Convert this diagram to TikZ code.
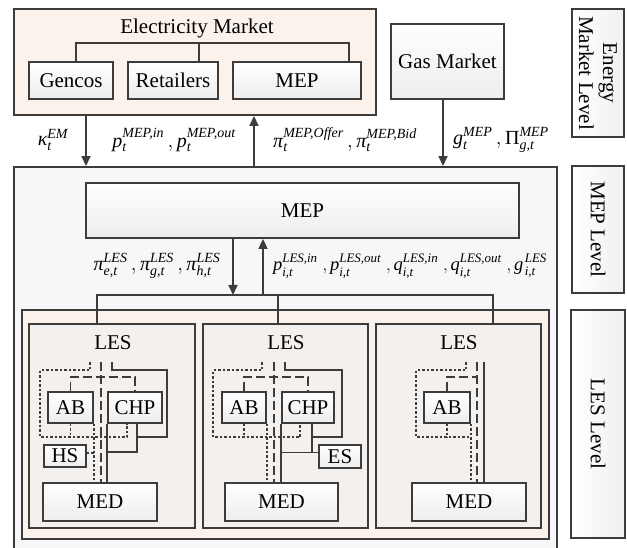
\documentclass[tikz,border=0pt]{standalone}
\usepackage{fontspec}
\setmainfont{Liberation Serif}
\usepackage{amsmath, amssymb}
\usepackage{tikz}
\usetikzlibrary{arrows.meta, calc}
\definecolor{line1}{RGB}{60,60,60}
\definecolor{peach1}{RGB}{251,242,235}
\definecolor{mist1}{RGB}{247,247,249}
\definecolor{lesfill}{RGB}{244,240,237}
\newcommand{\symit}[1]{\textit{#1}}
\tikzset{
  area/.style={draw=line1, line width=1.9pt, inner sep=0pt},
  unit/.style={draw=line1, line width=1.8pt, top color=white, bottom color=gray!14, inner sep=0pt},
  levelbox/.style={draw=line1, line width=1.8pt, left color=white, right color=gray!12, rotate=-90, align=center, inner sep=0pt},
  wire/.style={draw=line1, line width=1.7pt},
  flow/.style={wire, -{Triangle[length=10pt, width=9pt]}},
  heat/.style={wire, dash pattern=on 2.5pt off 2pt},
  gas/.style={wire, dash pattern=on 9pt off 4pt},
  mathlabel/.style={font=\fontsize{20}{23}\selectfont}
}

\begin{document}
\begin{tikzpicture}[x=1pt, y=-1pt, font=\fontsize{21}{24}\selectfont]
  \useasboundingbox (0,0) rectangle (627,548);

  \node[area, fill=peach1, minimum width=362pt, minimum height=106pt] (em) at (195,62) {};
  \node (emtitle) at (197,28) {Electricity Market};
  \node[unit, minimum width=84pt, minimum height=37pt] (gencos) at (71,80.5) {Gencos};
  \node[unit, minimum width=90pt, minimum height=37pt] (retailers) at (173,80.5) {Retailers};
  \node[unit, minimum width=128pt, minimum height=37pt] (mepem) at (297,80.5) {MEP};
  \draw[wire] (gencos.north -| 76,0) -- (76,43) -| (mepem.north -| 349,0);
  \draw[wire] (retailers.north -| 199,0) -- (199,43);
  \node[unit, minimum width=113pt, minimum height=75pt] (gas) at (447.5,61.5) {Gas Market};
  \node[levelbox, minimum width=128pt, minimum height=52pt] (lvem) at (598,73) {Energy\\Market Level};

  \node[area, fill=mist1, minimum width=543pt, minimum height=388pt] (mepl) at (285.5,361) {};
  \node[levelbox, minimum width=127pt, minimum height=52pt] (lvmep) at (598,229.5) {MEP Level};
  \node[unit, minimum width=433pt, minimum height=55pt] (mep) at (302.5,210.5) {MEP};

  \draw[flow] (em.south -| 86,0) -- (mepl.north -| 86,0);
  \draw[flow] (mepl.north -| 254,0) -- (em.south -| 254,0);
  \draw[flow] (gas.south -| 443,0) -- (mepl.north -| 443,0);
  \node[mathlabel] (kappa) at (53,140) {$\symit{κ}_{\symit{t}}^{\symit{EM}}$};
  \node[mathlabel] (pmep) at (174,140) {$\symit{p}_{\symit{t}}^{\symit{MEP,in}}\,,\symit{p}_{\symit{t}}^{\symit{MEP,out}}$};
  \node[mathlabel] (pimep) at (345,140) {$\symit{π}_{\symit{t}}^{\symit{MEP,Offer}}\,,\symit{π}_{\symit{t}}^{\symit{MEP,Bid}}$};
  \node[mathlabel] (gmep) at (501,140) {$\symit{g}_{\symit{t}}^{\symit{MEP}}\,,\textup{Π}_{\symit{g,t}}^{\symit{MEP}}$};

  \node[area, fill=peach1, minimum width=527pt, minimum height=229pt] (lesl) at (285.5,424.5) {};
  \node[levelbox, minimum width=228pt, minimum height=54pt] (lvles) at (598,424) {LES Level};
  \node[area, fill=lesfill, minimum width=166pt, minimum height=204pt] (les1) at (112,426) {};
  \node[area, fill=lesfill, minimum width=165pt, minimum height=204pt] (les2) at (285.5,426) {};
  \node[area, fill=lesfill, minimum width=165pt, minimum height=204pt] (les3) at (458.5,426) {};
  \node (les1t) at (113,343) {LES};
  \node (les2t) at (286,343) {LES};
  \node (les3t) at (459,343) {LES};

  \coordinate (busl) at (97,295);
  \coordinate (busr) at (493,295);
  \draw[wire] (les1.north -| busl) -- (busl) -- (busr) -- (les3.north -| busr);
  \draw[wire] (les2.north -| 278,0) -- (278,0 |- busl);
  \draw[flow] (mep.south -| 233,0) -- (233,0 |- busl);
  \draw[flow] (263,0 |- busl) -- (mep.south -| 263,0);
  \node[mathlabel] (piles) at (157,266) {$\symit{π}_{\symit{e,t}}^{\symit{LES}}\,,\symit{π}_{\symit{g,t}}^{\symit{LES}}\,,\symit{π}_{\symit{h,t}}^{\symit{LES}}$};
  \node[mathlabel, font=\fontsize{18.5}{21}\selectfont] (ples) at (410,266) {$\symit{p}_{\symit{i,t}}^{\symit{LES,in}}\;,\symit{p}_{\symit{i,t}}^{\symit{LES,out}}\;,\symit{q}_{\symit{i,t}}^{\symit{LES,in}}\;,\symit{q}_{\symit{i,t}}^{\symit{LES,out}}\;,{\symit{g}\kern1.5pt}_{\symit{i,t}}^{\text{\raisebox{2pt}{\itshape LES}}}$};

  \node[unit, minimum width=45pt, minimum height=31pt] (ab1) at (70.5,407.5) {AB};
  \node[unit, minimum width=54pt, minimum height=31pt] (chp1) at (135,407.5) {CHP};
  \node[unit, minimum width=42pt, minimum height=22pt] (hs1) at (65,456) {HS};
  \node[unit, minimum width=114pt, minimum height=38pt] (med1) at (100,502) {MED};
  \coordinate (h1) at (90,362);
  \coordinate (g1) at (101,362);
  \coordinate (e1) at (112,362);
  \draw[heat] (h1) -- ++(0,8) -| (40,437) -| ([xshift=-8pt]chp1.south);
  \draw[heat] (ab1.south) -- ++(0,14);
  \draw[heat] (ab1.south east) -- (ab1.south east |- med1.north);
  \draw[heat] ([yshift=3pt]hs1.east) -- ([yshift=3pt]hs1.east -| ab1.south east);
  \draw[gas] (g1) -- (g1 |- med1.north);
  \draw[gas] (ab1.north) -- ++(0,-14) -| (chp1.north);
  \draw[wire] (e1) -- ++(0,8) -| (167,437) -| ([xshift=2pt]chp1.south);
  \draw[wire] ([xshift=2pt]chp1.south) |- ([yshift=4pt]hs1.east -| chp1.south west);
  \draw[wire] (chp1.south west) -- (chp1.south west |- med1.north);

  \node[unit, minimum width=44pt, minimum height=31pt] (ab2) at (244,407.5) {AB};
  \node[unit, minimum width=52pt, minimum height=31pt] (chp2) at (308,407.5) {CHP};
  \node[unit, minimum width=42pt, minimum height=23pt] (es2) at (340,456.5) {ES};
  \node[unit, minimum width=113pt, minimum height=38pt] (med2) at (281.5,502) {MED};
  \coordinate (h2) at (262,362);
  \coordinate (g2) at (274,362);
  \coordinate (e2) at (285,362);
  \draw[heat] (h2) -- ++(0,8) -| (213,437) -| ([xshift=-8pt]chp2.south);
  \draw[heat] (ab2.south) -- ++(0,14);
  \draw[heat] (ab2.south east) -- (ab2.south east |- med2.north);
  \draw[gas] (g2) -- (g2 |- med2.north);
  \draw[gas] (ab2.north) -- ++(0,-14) -| (chp2.north);
  \draw[wire] (e2) -- ++(0,8) -| (342,437) -| ([xshift=4pt]chp2.south);
  \draw[wire] ([xshift=4pt]chp2.south) |- ([yshift=4pt]es2.west);
  \draw[wire] ([yshift=4pt]es2.west) -- ([yshift=4pt]es2.west -| chp2.south west);
  \draw[wire] (chp2.south west) -- (chp2.south west |- med2.north);

  \node[unit, minimum width=46pt, minimum height=31pt] (ab3) at (447,407.5) {AB};
  \node[unit, minimum width=114pt, minimum height=38pt] (med3) at (469,502) {MED};
  \coordinate (h3) at (466,362);
  \coordinate (g3) at (477,362);
  \coordinate (e3) at (484,362);
  \draw[heat] (h3) -- ++(0,8) -| (416,437) -- (ab3.south east |- 0,437);
  \draw[heat] (ab3.south) -- ++(0,14);
  \draw[heat] (ab3.south east) -- (ab3.south east |- med3.north);
  \draw[gas] (g3) -- (g3 |- med3.north);
  \draw[gas] (ab3.north) |- (g3 |- 0,377);
  \draw[wire] (e3) -- (e3 |- med3.north);
\end{tikzpicture}
\end{document}
